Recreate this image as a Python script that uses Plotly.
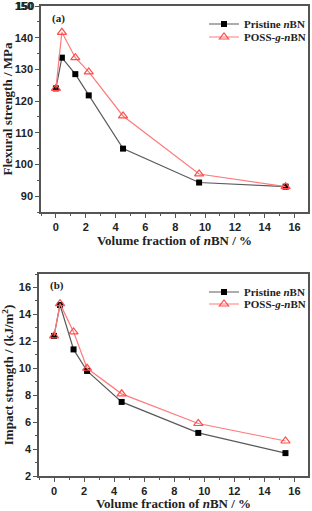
import plotly.graph_objects as go

x_vals = [0, 0.4, 1.3, 2.2, 4.5, 9.6, 15.4]
flex_pristine = [124, 133.7, 128.5, 121.8, 105, 94.3, 93]
flex_poss = [124, 141.7, 133.7, 129.2, 115.3, 97, 93]
impact_pristine = [12.4, 14.7, 11.4, 9.8, 7.5, 5.2, 3.7]
impact_poss = [12.4, 14.8, 12.7, 10.0, 8.1, 5.9, 4.6]
flex_top_tick = 150
name_pristine = "Pristine <i>n</i>BN"
name_poss = "POSS-<i>g</i>-<i>n</i>BN"

W, H = 312, 511
ML, MR, MT, MB = 39, 4, 6, 35
pw = W - ML - MR
ph = H - MT - MB

def fy(py):
    return (H - MB - py) / ph

def fx(px):
    return (px - ML) / pw

fig = go.Figure()

gray_line = "#5a5a5a"
pink_line = "#ff7a7a"
red_mark = "#ff4d4d"

def add_pair(xa, ya, yp, yq, leg_a, leg_b):
    fig.add_trace(go.Scatter(x=x_vals, y=yp, xaxis=xa, yaxis=ya, name=name_pristine,
                             mode="lines+markers", legend=leg_a, showlegend=True,
                             line=dict(color=gray_line, width=1.2),
                             marker=dict(symbol="square", size=6, color="black")))
    fig.add_trace(go.Scatter(x=x_vals, y=yq, xaxis=xa, yaxis=ya, name=name_poss,
                             mode="lines+markers", legend=leg_b, showlegend=True,
                             line=dict(color=pink_line, width=1.2),
                             marker=dict(symbol="triangle-up-open", size=8, color=red_mark,
                                         line=dict(width=1.2, color=red_mark))))

add_pair("x", "y", flex_pristine, flex_poss, "legend", "legend2")
add_pair("x2", "y2", impact_pristine, impact_poss, "legend3", "legend4")

tickfont = dict(family="Liberation Sans, Arial", size=11, color="#222", weight="bold")
titlefont = dict(family="Liberation Serif, Times New Roman", size=13, color="#222", weight="bold")
legfont = dict(family="Liberation Serif, Times New Roman", size=11, color="#222", weight="bold")
axcommon = dict(showline=True, mirror=True, linecolor="#555", linewidth=1.5,
                ticks="outside", ticklen=4, tickwidth=1, tickcolor="#555",
                showgrid=False, zeroline=False, tickfont=tickfont, automargin=False,
                ticklabeloverflow="allow")

xtitle = "Volume fraction of <i>n</i>BN / %"

def leg(py):
    return dict(x=fx(204), y=fy(py), xanchor="left", yanchor="middle",
                bgcolor="rgba(0,0,0,0)", itemwidth=30, font=legfont)

fig.update_layout(
    width=W, height=H, margin=dict(l=ML, r=MR, t=MT, b=MB, autoexpand=False),
    plot_bgcolor="white", paper_bgcolor="white", showlegend=True,
    xaxis=dict(domain=[fx(41), 1], anchor="y", range=[-1, 16.9], dtick=2, tick0=0,
               minor=dict(ticks="outside", ticklen=2, dtick=1, tickcolor="#555"),
               title=dict(text=xtitle, font=titlefont, standoff=4), **axcommon),
    yaxis=dict(domain=[fy(212), 1], anchor="x", range=[85, 150], dtick=10, tick0=90,
               minor=dict(ticks="outside", ticklen=2, dtick=5, tickcolor="#555"),
               title=dict(text="Flexural strength / MPa", font=titlefont, standoff=4), **axcommon),
    xaxis2=dict(domain=[0, 1], anchor="y2", range=[-1, 16.9], dtick=2, tick0=0,
                minor=dict(ticks="outside", ticklen=2, dtick=1, tickcolor="#555"),
                title=dict(text=xtitle, font=titlefont, standoff=4), **axcommon),
    yaxis2=dict(domain=[0, fy(274)], anchor="x2", range=[2, 17], dtick=2, tick0=2,
                minor=dict(ticks="outside", ticklen=2, dtick=1, tickcolor="#555"),
                title=dict(text="Impact strength / (kJ/m<sup>2</sup>)", font=titlefont, standoff=4), **axcommon),
    legend=leg(24),
    legend2=leg(37),
    legend3=leg(292),
    legend4=leg(304),
    annotations=[
        dict(text="(a)", x=fx(50), y=fy(19), xref="paper", yref="paper", showarrow=False,
             xanchor="left", yanchor="middle", font=legfont),
        dict(text="(b)", x=fx(48), y=fy(285), xref="paper", yref="paper", showarrow=False,
             xanchor="left", yanchor="middle", font=legfont),
        dict(text=str(flex_top_tick), x=fx(41), y=flex_top_tick, xref="paper", yref="y",
             showarrow=False, xanchor="right", yanchor="middle", xshift=-5,
             font=tickfont),
    ],
)

fig.write_html("out.html", config={"displayModeBar": False},
               post_script="document.body.style.margin='0';")
